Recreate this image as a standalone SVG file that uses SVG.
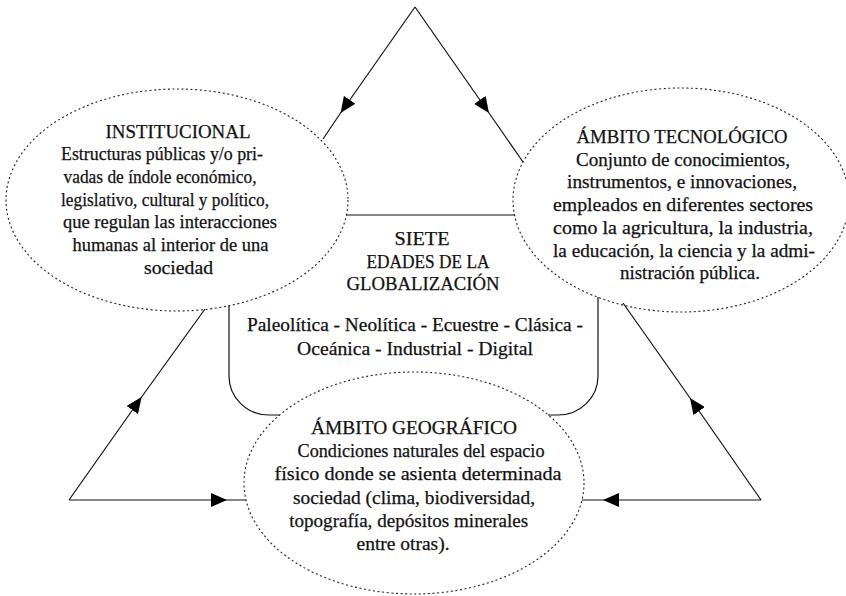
<svg xmlns="http://www.w3.org/2000/svg" width="846" height="596" viewBox="0 0 846 596">
<defs>
<marker id="arr" viewBox="0 0 16 14" refX="16" refY="7" markerWidth="16" markerHeight="14" markerUnits="userSpaceOnUse" orient="auto">
<path d="M0,0 L16,7 L0,14 z" fill="#000"/>
</marker>
<style>
.line{fill:none;stroke:#111;stroke-width:1.2;}
.conn{fill:none;stroke:#111;stroke-width:1.2;marker-mid:url(#arr);}
.ell{fill:none;stroke:#222;stroke-width:1.1;stroke-dasharray:2 2.6;}
text{font-family:"Liberation Serif","Times New Roman",serif;font-size:19px;fill:#111;stroke:#111;stroke-width:0.25;text-anchor:middle;}
</style>
</defs>
<rect width="846" height="596" fill="#fff"/>
<g id="connectors">
<path class="conn" d="M415,7 L340.6,113 L323,139"/>
<path class="conn" d="M415,7 L489,113 L523,162"/>
<path class="conn" d="M69,500 L141.6,397 L205,309"/>
<path class="conn" d="M761,500 L690,398 L623,303"/>
<path class="conn" d="M69,500 L227,500 L246,500"/>
<path class="conn" d="M761,500 L603,500 L582,500"/>
</g>
<g id="centro">
<path class="line" d="M346,215 H515"/>
<path class="line" d="M229,306 V376 A40 39 0 0 0 269,415 H280"/>
<path class="line" d="M598,297 V376 A40 39 0 0 1 558,415 H548"/>
<text x="422" y="245" textLength="55" lengthAdjust="spacingAndGlyphs">SIETE</text>
<text x="428" y="268" textLength="123" lengthAdjust="spacingAndGlyphs">EDADES DE LA</text>
<text x="423" y="290" textLength="153" lengthAdjust="spacingAndGlyphs">GLOBALIZACIÓN</text>
<text x="415" y="330.5" textLength="336" lengthAdjust="spacingAndGlyphs">Paleolítica - Neolítica - Ecuestre - Clásica -</text>
<text x="415" y="354.5" textLength="236" lengthAdjust="spacingAndGlyphs">Oceánica - Industrial - Digital</text>
</g>
<g id="institucional">
<ellipse class="ell" cx="177" cy="200" rx="171" ry="111"/>
<text x="178" y="137.5" textLength="145" lengthAdjust="spacingAndGlyphs">INSTITUCIONAL</text>
<text x="162" y="160.2" textLength="202" lengthAdjust="spacingAndGlyphs">Estructuras públicas y/o pri-</text>
<text x="160" y="182.9" textLength="193" lengthAdjust="spacingAndGlyphs">vadas de índole económico,</text>
<text x="165" y="205.6" textLength="208" lengthAdjust="spacingAndGlyphs">legislativo, cultural y político,</text>
<text x="170" y="228.3" textLength="214" lengthAdjust="spacingAndGlyphs">que regulan las interacciones</text>
<text x="170.5" y="251" textLength="196" lengthAdjust="spacingAndGlyphs">humanas al interior de una</text>
<text x="178.5" y="273.7" textLength="69" lengthAdjust="spacingAndGlyphs">sociedad</text>
</g>
<g id="tecnologico">
<ellipse class="ell" cx="681" cy="200" rx="168" ry="112"/>
<text x="682" y="143" textLength="211" lengthAdjust="spacingAndGlyphs">ÁMBITO TECNOLÓGICO</text>
<text x="683" y="165.7" textLength="214" lengthAdjust="spacingAndGlyphs">Conjunto de conocimientos,</text>
<text x="682" y="188.4" textLength="230" lengthAdjust="spacingAndGlyphs">instrumentos, e innovaciones,</text>
<text x="683" y="211.1" textLength="260" lengthAdjust="spacingAndGlyphs">empleados en diferentes sectores</text>
<text x="683" y="233.8" textLength="260" lengthAdjust="spacingAndGlyphs">como la agricultura, la industria,</text>
<text x="684" y="256.5" textLength="262" lengthAdjust="spacingAndGlyphs">la educación, la ciencia y la admi-</text>
<text x="690" y="279.2" textLength="140" lengthAdjust="spacingAndGlyphs">nistración pública.</text>
</g>
<g id="geografico">
<ellipse class="ell" cx="414" cy="483" rx="170" ry="111"/>
<text x="414" y="434" textLength="206" lengthAdjust="spacingAndGlyphs">ÁMBITO GEOGRÁFICO</text>
<text x="421" y="457.2" textLength="247" lengthAdjust="spacingAndGlyphs">Condiciones naturales del espacio</text>
<text x="418" y="480.4" textLength="287" lengthAdjust="spacingAndGlyphs">físico donde se asienta determinada</text>
<text x="414" y="503.6" textLength="242" lengthAdjust="spacingAndGlyphs">sociedad (clima, biodiversidad,</text>
<text x="408.7" y="526.8" textLength="239" lengthAdjust="spacingAndGlyphs">topografía, depósitos minerales</text>
<text x="403" y="550" textLength="93" lengthAdjust="spacingAndGlyphs">entre otras).</text>
</g>
</svg>
